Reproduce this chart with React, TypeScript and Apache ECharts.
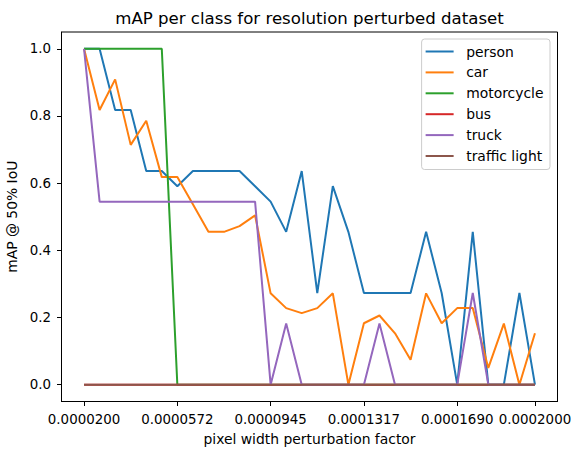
import React, { useEffect, useRef } from "react";
import * as echarts from "echarts";

const xValues = [
  0.00002, 0.0000262069, 0.0000324138, 0.0000386207, 0.0000448276, 0.0000510345,
  0.0000572414, 0.0000634483, 0.0000696552, 0.0000758621, 0.000082069, 0.0000882759,
  0.0000944828, 0.0001006897, 0.0001068966, 0.0001131034, 0.0001193103, 0.0001255172,
  0.0001317241, 0.000137931, 0.0001441379, 0.0001503448, 0.0001565517, 0.0001627586,
  0.0001689655, 0.0001751724, 0.0001813793, 0.0001875862, 0.0001937931, 0.0002,
];
const xTicks = [0.00002, 0.0000572414, 0.0000944828, 0.0001317241, 0.0001689655, 0.0002];
const yTicks = [0, 0.2, 0.4, 0.6, 0.8, 1.0];

const person = [1, 1, 0.818, 0.818, 0.636, 0.636, 0.591, 0.636, 0.636, 0.636, 0.636, 0.591, 0.545, 0.455, 0.636, 0.273, 0.591, 0.455, 0.273, 0.273, 0.273, 0.273, 0.455, 0.273, 0, 0.455, 0, 0, 0.273, 0];
const car = [1, 0.818, 0.909, 0.714, 0.786, 0.618, 0.618, 0.537, 0.455, 0.455, 0.472, 0.504, 0.272, 0.228, 0.213, 0.228, 0.272, 0, 0.183, 0.206, 0.153, 0.074, 0.272, 0.183, 0.228, 0.228, 0.05, 0.182, 0, 0.153];
const motorcycle = [1, 1, 1, 1, 1, 1, 0, 0, 0, 0, 0, 0, 0, 0, 0, 0, 0, 0, 0, 0, 0, 0, 0, 0, 0, 0, 0, 0, 0, 0];
const bus = [0, 0, 0, 0, 0, 0, 0, 0, 0, 0, 0, 0, 0, 0, 0, 0, 0, 0, 0, 0, 0, 0, 0, 0, 0, 0, 0, 0, 0, 0];
const truck = [1, 0.545, 0.545, 0.545, 0.545, 0.545, 0.545, 0.545, 0.545, 0.545, 0.545, 0.545, 0, 0.182, 0, 0, 0, 0, 0, 0.182, 0, 0, 0, 0, 0, 0.273, 0, 0, 0, 0];
const trafficLight = [0, 0, 0, 0, 0, 0, 0, 0, 0, 0, 0, 0, 0, 0, 0, 0, 0, 0, 0, 0, 0, 0, 0, 0, 0, 0, 0, 0, 0, 0];

const seriesNames = ["person", "car", "motorcycle", "bus", "truck", "traffic light"];
const seriesValues = [person, car, motorcycle, bus, truck, trafficLight];
const colors = ["#1f77b4", "#ff7f0e", "#2ca02c", "#d62728", "#9467bd", "#8c564b"];

const FONT = "DejaVu Sans";

export default function App() {
  const ref = useRef<HTMLDivElement>(null);
  useEffect(() => {
    if (!ref.current) return;
    const chart = echarts.init(ref.current, undefined, { renderer: "svg" });
    chart.setOption({
      animation: false,
      backgroundColor: "#ffffff",
      color: colors,
      textStyle: { fontFamily: FONT },
      title: {
        text: "mAP per class for resolution perturbed dataset",
        left: 309.5,
        textAlign: "center",
        top: 10,
        padding: 0,
        textStyle: { fontFamily: FONT, fontSize: 16.6, fontWeight: "normal", color: "#000" },
      },
      grid: {
        left: 61.5,
        right: 23.5,
        top: 32,
        bottom: 53.5,
        containLabel: false,
        outerBoundsMode: "none",
        show: true,
        borderColor: "#000",
        borderWidth: 1,
        backgroundColor: "transparent",
      },
      legend: {
        orient: "vertical",
        right: 31,
        top: 39,
        icon: "rect",
        itemWidth: 28,
        itemHeight: 2,
        itemGap: 6.9,
        padding: [5.5, 6.5, 6.5, 4],
        backgroundColor: "rgba(255,255,255,0.8)",
        borderColor: "#cccccc",
        borderWidth: 1,
        borderRadius: 3,
        textStyle: {
          fontFamily: FONT,
          fontSize: 13.9,
          lineHeight: 13.9,
          color: "#000",
          padding: [0, 0, 0, 7.6],
        },
        data: seriesNames,
      },
      xAxis: {
        type: "value",
        min: 0.000011,
        max: 0.000209,
        name: "pixel width perturbation factor",
        nameLocation: "middle",
        nameGap: 30,
        nameTextStyle: { fontFamily: FONT, fontSize: 13.9, color: "#000" },
        splitLine: { show: false },
        axisLine: { show: true, onZero: false, lineStyle: { color: "#000", width: 1 } },
        axisTick: {
          show: true,
          length: 4.5,
          inside: false,
          customValues: xTicks,
          lineStyle: { color: "#000", width: 1 },
        },
        axisLabel: {
          show: true,
          customValues: xTicks,
          margin: 11,
          fontFamily: FONT,
          fontSize: 13.4,
          color: "#000",
          formatter: (v: number) => v.toFixed(7),
        },
      },
      yAxis: {
        type: "value",
        min: -0.05,
        max: 1.05,
        name: "mAP @ 50% IoU",
        nameLocation: "middle",
        nameRotate: 90,
        nameGap: 38,
        nameTextStyle: { fontFamily: FONT, fontSize: 13.9, color: "#000" },
        splitLine: { show: false },
        axisLine: { show: true, onZero: false, lineStyle: { color: "#000", width: 1 } },
        axisTick: {
          show: true,
          length: 4.5,
          inside: false,
          customValues: yTicks,
          lineStyle: { color: "#000", width: 1 },
        },
        axisLabel: {
          show: true,
          customValues: yTicks,
          margin: 10.5,
          fontFamily: FONT,
          fontSize: 13.4,
          color: "#000",
          formatter: (v: number) => v.toFixed(1),
        },
      },
      series: seriesNames.map((name, k) => ({
        name,
        type: "line",
        symbol: "none",
        showSymbol: false,
        lineStyle: { width: 2, color: colors[k] },
        itemStyle: { color: colors[k] },
        data: xValues.map((x, i) => [x, seriesValues[k][i]]),
      })),
    });
    return () => chart.dispose();
  }, []);
  return (
    <div
      ref={ref}
      style={{ position: "fixed", left: 0, top: 0, width: 581, height: 455, background: "#fff" }}
    />
  );
}
